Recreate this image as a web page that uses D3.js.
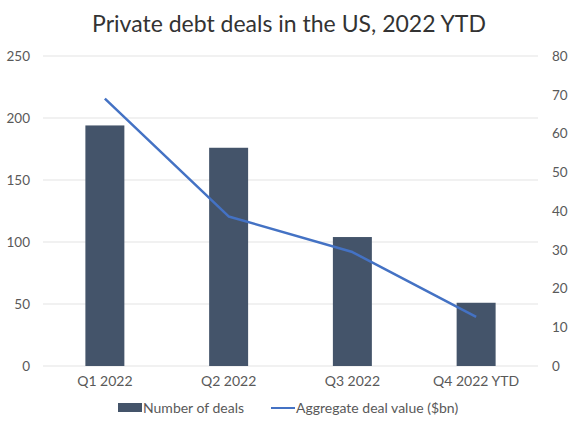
<!DOCTYPE html>
<html>
<head>
<meta charset="utf-8">
<script src="https://cdn.jsdelivr.net/npm/d3@7"></script>
<style>
  body { margin: 0; background: #fff; }
  text { font-family: Lato, "Open Sans", sans-serif; }
  .tick text { fill: #595959; font-size: 13.5px; }
  .x-axis .tick text { font-size: 14px; }
</style>
</head>
<body>
<script>
// chart data
var quarters = ["Q1 2022", "Q2 2022", "Q3 2022", "Q4 2022 YTD"];
var dealCounts = [194, 176, 104, 51];
var dealValues = [69, 38.6, 29.4, 12.7];
var leftTicks = [0, 50, 100, 150, 200, 250];
var rightTicks = [0, 10, 20, 30, 40, 50, 60, 70, 80];

var svgWidth = 580;
var svgHeight = 435;
var margin = { top: 56, right: 42, bottom: 69, left: 43 };

var width = svgWidth - margin.left - margin.right;
var height = svgHeight - margin.top - margin.bottom;

var svg = d3.select("body")
  .append("svg")
  .attr("width", svgWidth)
  .attr("height", svgHeight);

svg.append("text")
  .attr("x", 289)
  .attr("y", 32)
  .attr("text-anchor", "middle")
  .attr("font-size", "23px")
  .attr("fill", "#333")
  .text("Private debt deals in the US, 2022 YTD");

var chartGroup = svg.append("g")
  .attr("transform", `translate(${margin.left}, ${margin.top})`);

// scales
var xScale = d3.scaleBand().domain(quarters).range([0, width]).paddingInner(0.685).paddingOuter(0.3425);
var yLeft = d3.scaleLinear().domain([0, 250]).range([height, 0]);
var yRight = d3.scaleLinear().domain([0, 80]).range([height, 0]);

// gridlines
chartGroup.selectAll(".grid")
  .data(leftTicks)
  .enter()
  .append("line")
  .attr("x1", 0)
  .attr("x2", width)
  .attr("y1", function (d) { return yLeft(d); })
  .attr("y2", function (d) { return yLeft(d); })
  .attr("stroke", "#e3e3e3")
  .attr("stroke-width", 1);

// bars
chartGroup.selectAll("rect.bar")
  .data(dealCounts)
  .enter()
  .append("rect")
  .attr("class", "bar")
  .attr("x", function (d, i) { return xScale(quarters[i]); })
  .attr("y", function (d) { return yLeft(d); })
  .attr("width", xScale.bandwidth())
  .attr("height", function (d) { return height - yLeft(d); })
  .attr("fill", "#44546a");

// line
var line = d3.line()
  .x(function (d, i) { return xScale(quarters[i]) + xScale.bandwidth() / 2; })
  .y(function (d) { return yRight(d); });

chartGroup.append("path")
  .datum(dealValues)
  .attr("d", line)
  .attr("fill", "none")
  .attr("stroke", "#4472c4")
  .attr("stroke-width", 2.5)
  .attr("stroke-linejoin", "round");

// axes
var leftAxis = chartGroup.append("g")
  .call(d3.axisLeft(yLeft).tickValues(leftTicks).tickSize(0).tickPadding(13));
leftAxis.select(".domain").remove();

var rightAxis = chartGroup.append("g")
  .attr("transform", `translate(${width},0)`)
  .call(d3.axisRight(yRight).tickValues(rightTicks).tickSize(0).tickPadding(14));
rightAxis.select(".domain").remove();

var xAxis = chartGroup.append("g")
  .attr("class", "x-axis")
  .attr("transform", `translate(0,${height})`)
  .call(d3.axisBottom(xScale).tickSize(0).tickPadding(10));
xAxis.select(".domain").remove();

// legend
var legend = svg.append("g").attr("transform", "translate(118,408)");
legend.append("rect")
  .attr("x", 0).attr("y", -5)
  .attr("width", 24).attr("height", 9)
  .attr("fill", "#44546a");
legend.append("text")
  .attr("x", 25).attr("y", 5)
  .attr("font-size", "14px").attr("fill", "#595959")
  .text("Number of deals");
legend.append("line")
  .attr("x1", 153).attr("x2", 177)
  .attr("y1", 0).attr("y2", 0)
  .attr("stroke", "#4472c4").attr("stroke-width", 2);
legend.append("text")
  .attr("x", 178).attr("y", 5)
  .attr("font-size", "14px").attr("fill", "#595959")
  .text("Aggregate deal value ($bn)");
</script>
</body>
</html>
